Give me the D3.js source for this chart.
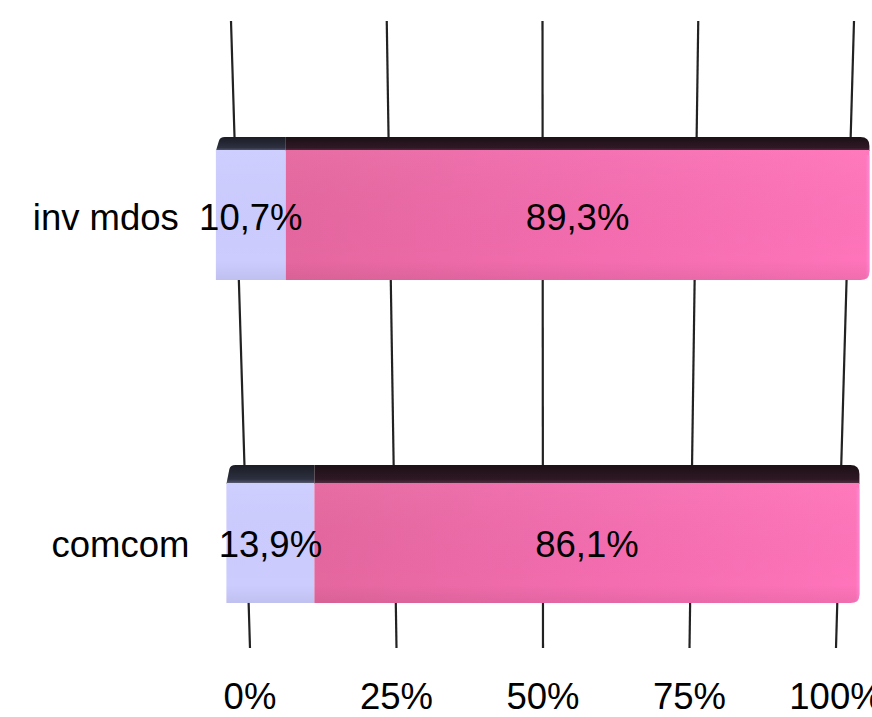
<!DOCTYPE html>
<html>
<head>
<meta charset="utf-8">
<script src="https://cdn.jsdelivr.net/npm/d3@7"></script>
<style>
html,body{margin:0;padding:0;background:#fff;}
svg{display:block;font-family:"Liberation Sans",Arial,sans-serif;}
</style>
</head>
<body>
<svg id="chart" width="872" height="717"></svg>
<script>
// ---- data ----
const categories = ["inv mdos", "comcom"];
const seriesA = [10.7, 13.9];   // lavender
const seriesB = [89.3, 86.1];   // pink
const valueLabelsA = ["10,7%", "13,9%"];
const valueLabelsB = ["89,3%", "86,1%"];
const tickValues = [0, 25, 50, 75, 100];
const tickLabels = ["0%", "25%", "50%", "75%", "100%"];

const W = 872, H = 717;
const FS = 36.5;
const svg = d3.select("#chart");
const defs = svg.append("defs");

// perspective: grid runs from gridTop to gridBottom, converging toward the bottom
const gridTop = 21, gridBottom = 648;
const leftAtY = d3.scaleLinear().domain([gridTop, gridBottom]).range([231, 250]);
const rightAtY = d3.scaleLinear().domain([gridTop, gridBottom]).range([854, 836]);
const xAtY = y => d3.scaleLinear().domain([0, 100]).range([leftAtY(y), rightAtY(y)]);
const barExpand = 1.068; // bars sit in front of the grid wall
const barScaleAtY = y => {
  const g = xAtY(y);
  const l = g(0), r = g(100), c = (l + r) / 2, h = (r - l) / 2 * barExpand;
  return d3.scaleLinear().domain([0, 100]).range([c - h, c + h]);
};

const y = d3.scaleBand().domain(categories).range([137, 605]).paddingInner(0.573).paddingOuter(0);
const depthAtY = d3.scaleLinear().domain([137, 465]).range([13, 18]);
const heightAtY = d3.scaleLinear().domain([137, 465]).range([143, 138]);

// gradients
const pinkGrad = defs.append("linearGradient").attr("id", "pinkGrad").attr("x1", 0).attr("x2", 1).attr("y1", 0).attr("y2", 0);
pinkGrad.append("stop").attr("offset", "0%").attr("stop-color", "#E5679F");
pinkGrad.append("stop").attr("offset", "55%").attr("stop-color", "#F46DB0");
pinkGrad.append("stop").attr("offset", "100%").attr("stop-color", "#FF74BA");

const shadeGrad = defs.append("linearGradient").attr("id", "shadeGrad").attr("x1", 0).attr("x2", 0).attr("y1", 0).attr("y2", 1);
shadeGrad.append("stop").attr("offset", "0%").attr("stop-color", "#fff").attr("stop-opacity", 0.04);
shadeGrad.append("stop").attr("offset", "85%").attr("stop-color", "#000").attr("stop-opacity", 0.0);
shadeGrad.append("stop").attr("offset", "100%").attr("stop-color", "#000").attr("stop-opacity", 0.06);

const topPink = defs.append("linearGradient").attr("id", "topPink").attr("x1", 0).attr("x2", 0).attr("y1", 0).attr("y2", 1);
topPink.append("stop").attr("offset", "0%").attr("stop-color", "#1c1016");
topPink.append("stop").attr("offset", "75%").attr("stop-color", "#2e1824");
topPink.append("stop").attr("offset", "100%").attr("stop-color", "#5a2f48");
const topLav = defs.append("linearGradient").attr("id", "topLav").attr("x1", 0).attr("x2", 0).attr("y1", 0).attr("y2", 1);
topLav.append("stop").attr("offset", "0%").attr("stop-color", "#1b1c24");
topLav.append("stop").attr("offset", "75%").attr("stop-color", "#2c3040");
topLav.append("stop").attr("offset", "100%").attr("stop-color", "#5d6078");

const endGrad = defs.append("linearGradient").attr("id", "endGrad").attr("x1", 0).attr("x2", 1).attr("y1", 0).attr("y2", 0);
endGrad.append("stop").attr("offset", "0%").attr("stop-color", "#FF74BA");
endGrad.append("stop").attr("offset", "100%").attr("stop-color", "#FF8AD6");

// grid lines
svg.append("g").selectAll("line").data(tickValues).join("line")
  .attr("x1", d => xAtY(gridTop)(d)).attr("y1", gridTop)
  .attr("x2", d => xAtY(gridBottom)(d)).attr("y2", gridBottom)
  .attr("stroke", "#222").attr("stroke-width", 2.2);

// bars
const bars = svg.append("g");
categories.forEach((cat, i) => {
  const y0 = y(cat), bh = heightAtY(y0);
  const depth = depthAtY(y0);
  const yc = y0 + bh / 2;
  const xs = barScaleAtY(yc);
  const x0 = xs(0), xm = xs(seriesA[i]), x1 = xs(seriesA[i] + seriesB[i]);
  const yf = y0 + depth, yb = y0 + bh;
  const r = 9;
  const g = bars.append("g");

  // top face (rounded top corners)
  g.append("path")
    .attr("d", `M${x0},${yf + 1} L${x0 + 3},${y0 + 4} Q${x0 + 4},${y0} ${x0 + 9},${y0} L${xm},${y0} L${xm},${yf + 1} Z`)
    .attr("fill", "url(#topLav)");
  g.append("path")
    .attr("d", `M${xm},${y0} L${x1 - r},${y0} Q${x1},${y0} ${x1},${y0 + r} L${x1},${yf + 1} L${xm},${yf + 1} Z`)
    .attr("fill", "url(#topPink)");

  // front faces
  g.append("rect").attr("x", x0).attr("y", yf).attr("width", xm - x0).attr("height", yb - yf)
    .attr("fill", "#CCCCFF");
  g.append("path")
    .attr("d", `M${xm},${yf} L${x1},${yf} L${x1},${yb - r} Q${x1},${yb} ${x1 - r},${yb} L${xm},${yb} Z`)
    .attr("fill", "url(#pinkGrad)");
  // right end strip
  g.append("path")
    .attr("d", `M${x1 - 4},${yf + 4} L${x1},${yf + 6} L${x1},${yb - r} Q${x1},${yb - 2} ${x1 - 4},${yb - 1} Z`)
    .attr("fill", "url(#endGrad)").attr("opacity", 0.8);
  g.append("path")
    .attr("d", `M${x0},${yf} L${x1},${yf} L${x1},${yb - r} Q${x1},${yb} ${x1 - r},${yb} L${x0},${yb} Z`)
    .attr("fill", "url(#shadeGrad)");

  // value labels
  const ty = (yf + yb) / 2 + 14.5;
  g.append("text").attr("x", (x0 + xm) / 2).attr("y", ty).attr("text-anchor", "middle")
    .attr("font-size", FS).attr("fill", "#000").text(valueLabelsA[i]);
  g.append("text").attr("x", (xm + x1) / 2).attr("y", ty).attr("text-anchor", "middle")
    .attr("font-size", FS).attr("fill", "#000").text(valueLabelsB[i]);

  // category label
  g.append("text").attr("x", x0 - 37).attr("y", ty).attr("text-anchor", "end")
    .attr("font-size", FS).attr("fill", "#000").text(cat);
});

// axis labels
svg.append("g").selectAll("text").data(tickValues).join("text")
  .attr("x", d => xAtY(gridBottom)(d)).attr("y", 709)
  .attr("text-anchor", "middle").attr("font-size", FS).attr("fill", "#000")
  .text((d, i) => tickLabels[i]);
</script>
</body>
</html>
